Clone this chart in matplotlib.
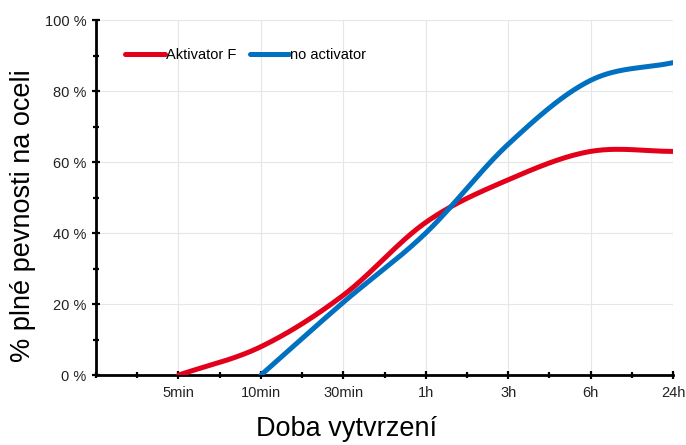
import numpy as np
import matplotlib
matplotlib.use("Agg")
import matplotlib.pyplot as plt
from matplotlib.ticker import MultipleLocator, FuncFormatter

plt.rcParams['font.family'] = ['Liberation Sans', 'DejaVu Sans']

# data (category index 1..7)
time_labels = ["5min", "10min", "30min", "1h", "3h", "6h", "24h"]
aktivator_x = [1, 2, 3, 4, 5, 6, 7]
aktivator_y = [0, 8, 22.5, 43, 55, 63, 63]
noact_x = [2, 3, 4, 5, 6, 7]
noact_y = [0, 20.5, 40, 65, 83, 88]


def smooth(xs, ys, n=40):
    # Catmull-Rom curve through the points (like spreadsheet smoothed lines)
    p = np.column_stack([xs, ys]).astype(float)
    p = np.vstack([2 * p[0] - p[1], p, 2 * p[-1] - p[-2]])
    out = []
    t = np.linspace(0, 1, n)[:, None]
    for i in range(1, len(p) - 2):
        p0, p1, p2, p3 = p[i - 1], p[i], p[i + 1], p[i + 2]
        seg = 0.5 * ((2 * p1) + (-p0 + p2) * t
                     + (2 * p0 - 5 * p1 + 4 * p2 - p3) * t ** 2
                     + (-p0 + 3 * p1 - 3 * p2 + p3) * t ** 3)
        out.append(seg)
    c = np.vstack(out)
    return c[:, 0], c[:, 1]


fig = plt.figure(figsize=(6.86, 4.45), dpi=100)
ax = fig.add_axes([0.140, 0.157, 0.841, 0.798])

ax.grid(True, color="#e6e6e6", linewidth=0.8)
ax.set_axisbelow(True)

rx, ry = smooth(aktivator_x, aktivator_y)
bx, by = smooth(noact_x, noact_y)
ax.plot(rx, ry, color="#e3001b", lw=3.6, solid_capstyle="round", label="Aktivator F", zorder=3)
ax.plot(bx, by, color="#0070c0", lw=3.6, solid_capstyle="round", label="no activator", zorder=3)

ax.set_xlim(0, 7)
ax.set_ylim(0, 100)
ax.set_xticks(range(1, 8))
ax.set_xticklabels(time_labels)
ax.xaxis.set_minor_locator(MultipleLocator(0.5))
ax.yaxis.set_major_locator(MultipleLocator(20))
ax.yaxis.set_minor_locator(MultipleLocator(10))
ax.yaxis.set_major_formatter(FuncFormatter(lambda v, p: f"{v:.0f} %"))

ax.tick_params(which="both", direction="inout", width=1.6, colors="black", labelsize=10.5)
ax.tick_params(which="major", length=6)
ax.tick_params(which="minor", length=5)
ax.tick_params(axis="x", pad=5)
ax.tick_params(axis="y", pad=4)
for lab in ax.get_xticklabels() + ax.get_yticklabels():
    lab.set_color("#222222")

for s in ["top", "right"]:
    ax.spines[s].set_visible(False)
for s in ["left", "bottom"]:
    ax.spines[s].set_linewidth(2)

ax.set_ylabel("% plné pevnosti na oceli", fontsize=19.5, labelpad=6, y=0.448)
ax.set_xlabel("Doba vytvrzení", fontsize=19.5, labelpad=11, x=0.435)

ax.legend(loc="upper left", bbox_to_anchor=(0.028, 0.958), ncol=2, frameon=False,
          fontsize=10.5, handlelength=2.7, handletextpad=0.1, columnspacing=0.9)

fig.savefig("out.png", dpi=100)
